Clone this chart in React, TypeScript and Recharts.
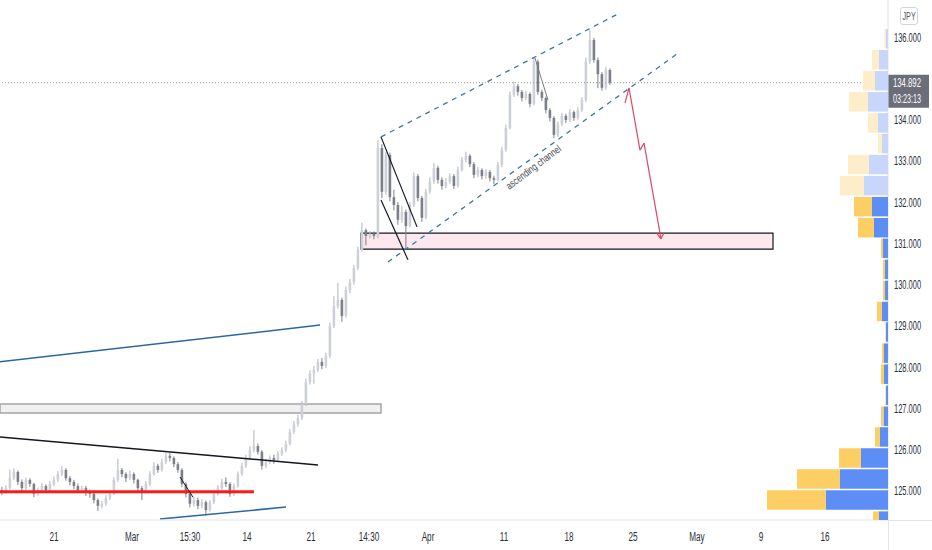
import React from 'react';
import {
  ComposedChart,
  BarChart,
  Bar,
  XAxis,
  YAxis,
  ReferenceLine,
  ReferenceArea,
  ReferenceDot,
  Cell,
} from 'recharts';

const FONT = "'Liberation Sans', Arial, sans-serif";

// ---------- axes ----------
const PRICE_MIN = 124.297;
const PRICE_MAX = 136.897;
const X_MIN = -0.5;
const X_MAX = 221.5;
// 135.000 sits under the last-price tag, so it is not shown
const priceTicks = [125, 126, 127, 128, 129, 130, 131, 132, 133, 134, 136];
const timeTicks = [13, 32.5, 47, 61.25, 77.25, 91.75, 106.5, 125.5, 141.75, 157.75, 173.75, 189.75, 205.75];
const timeLabels = ['21', 'Mar', '15:30', '14', '21', '14:30', 'Apr', '11', '18', '25', 'May', '9', '16'];
const lastPrice = 134.892;
const lastPriceText = '134.892';
const countdownText = '03:23:13';
const currencyText = 'JPY';

// ---------- candles (4H) ----------
const opens = [
  125.02, 124.98, 125.07, 125.31, 125.46, 125.22, 125.07, 125.27, 125.17, 124.93,
  125.02, 125.12, 125.02, 125.17, 125.27, 125.41, 125.51, 125.31, 125.22, 125.12,
  125.02, 125.07, 124.98, 124.93, 124.78, 124.64, 124.69, 124.83, 124.93, 125.27,
  125.51, 125.41, 125.31, 125.41, 125.27, 125.07, 124.98, 125.17, 125.41, 125.61,
  125.51, 125.70, 125.85, 125.80, 125.65, 125.51, 125.17, 124.93, 124.69, 124.78,
  124.64, 124.73, 124.54, 124.73, 124.93, 125.07, 125.22, 125.17, 124.93, 125.12,
  125.41, 125.61, 125.80, 125.99, 126.09, 125.95, 125.61, 125.70, 125.80, 125.75,
  125.90, 125.99, 126.14, 126.43, 126.62, 126.77, 127.11, 127.64, 127.84, 127.93,
  128.13, 128.03, 128.27, 129.00, 129.48, 129.63, 129.24, 129.87, 130.06, 130.40,
  130.84, 131.32, 131.18, 131.23, 131.18, 133.31, 132.25, 133.14, 132.12, 131.93,
  131.57, 131.76, 131.42, 131.93, 132.63, 132.10, 131.62, 132.25, 132.49, 132.83,
  132.54, 132.39, 132.49, 132.63, 132.39, 132.78, 133.02, 133.12, 132.92, 132.66,
  132.78, 132.63, 132.73, 132.58, 132.54, 132.90, 133.26, 133.80, 134.60, 134.81,
  134.67, 134.52, 134.62, 134.38, 135.40, 134.67, 134.52, 134.23, 134.04, 133.63,
  133.89, 134.09, 133.99, 134.18, 134.04, 134.23, 134.47, 135.40, 135.93, 135.44,
  135.10, 134.77, 135.20,
];
const highs = [
  125.10, 125.14, 125.52, 125.55, 125.50, 125.28, 125.33, 125.31, 125.20, 125.08,
  125.19, 125.16, 125.24, 125.35, 125.48, 125.60, 125.55, 125.36, 125.27, 125.18,
  125.13, 125.12, 125.03, 124.97, 124.82, 124.76, 124.90, 125.00, 125.33, 125.78,
  125.56, 125.45, 125.49, 125.45, 125.30, 125.12, 125.24, 125.48, 125.70, 125.66,
  125.78, 125.93, 125.92, 125.84, 125.70, 125.55, 125.21, 124.98, 124.86, 124.84,
  124.80, 124.77, 124.78, 125.00, 125.14, 125.30, 125.33, 125.21, 125.18, 125.47,
  125.68, 125.88, 126.08, 126.48, 126.15, 125.99, 125.78, 125.86, 125.88, 125.96,
  126.06, 126.22, 126.50, 126.70, 126.85, 127.18, 127.72, 127.92, 128.03, 128.20,
  128.22, 128.35, 129.08, 129.72, 130.04, 129.68, 129.95, 130.14, 130.48, 130.92,
  131.50, 131.36, 131.30, 131.29, 133.50, 133.40, 133.22, 133.20, 132.30, 132.00,
  131.90, 131.82, 132.00, 132.72, 132.68, 132.15, 132.32, 132.60, 132.95, 132.88,
  132.60, 132.58, 132.70, 132.68, 132.86, 133.10, 133.22, 133.16, 132.97, 132.85,
  132.82, 132.80, 132.78, 132.64, 132.97, 133.33, 133.88, 134.68, 134.92, 134.86,
  134.72, 134.70, 134.66, 135.52, 135.45, 134.72, 134.56, 134.28, 134.08, 133.95,
  134.16, 134.14, 134.25, 134.22, 134.30, 134.54, 135.50, 136.17, 135.98, 135.50,
  135.15, 135.27, 135.24,
];
const lows = [
  124.90, 124.93, 125.03, 125.26, 125.15, 124.98, 125.02, 125.10, 124.85, 124.88,
  124.97, 124.95, 124.98, 125.12, 125.22, 125.36, 125.25, 125.14, 125.04, 124.96,
  124.95, 124.88, 124.84, 124.70, 124.52, 124.58, 124.64, 124.78, 124.90, 125.22,
  125.33, 125.22, 125.26, 125.18, 124.98, 124.78, 124.94, 125.12, 125.37, 125.44,
  125.47, 125.65, 125.72, 125.58, 125.44, 125.10, 124.85, 124.60, 124.62, 124.56,
  124.58, 124.40, 124.50, 124.68, 124.89, 125.02, 125.10, 124.86, 124.88, 125.08,
  125.36, 125.56, 125.75, 125.93, 125.88, 125.52, 125.55, 125.65, 125.66, 125.70,
  125.85, 125.94, 126.10, 126.38, 126.56, 126.72, 127.06, 127.58, 127.60, 127.88,
  127.95, 127.98, 128.22, 128.95, 129.42, 129.10, 129.20, 129.80, 130.00, 130.35,
  130.80, 130.95, 131.12, 131.10, 131.12, 132.10, 132.18, 132.02, 131.80, 131.45,
  131.50, 130.89, 131.38, 131.88, 132.02, 131.52, 131.58, 132.20, 132.44, 132.45,
  132.30, 132.33, 132.44, 132.32, 132.35, 132.74, 132.96, 132.85, 132.58, 132.60,
  132.55, 132.57, 132.50, 132.44, 132.50, 132.85, 133.22, 133.76, 134.55, 134.58,
  134.44, 134.47, 134.30, 134.34, 134.60, 134.45, 134.15, 133.95, 133.55, 133.58,
  133.84, 133.92, 133.94, 133.97, 134.00, 134.18, 134.43, 135.35, 135.38, 134.76,
  134.70, 134.72, 134.84,
];
const closes = [
  124.98, 125.07, 125.31, 125.46, 125.22, 125.07, 125.27, 125.17, 124.93, 125.02,
  125.12, 125.02, 125.17, 125.27, 125.41, 125.51, 125.31, 125.22, 125.12, 125.02,
  125.07, 124.98, 124.93, 124.78, 124.64, 124.69, 124.83, 124.93, 125.27, 125.51,
  125.41, 125.31, 125.41, 125.27, 125.07, 124.98, 125.17, 125.41, 125.61, 125.51,
  125.70, 125.85, 125.80, 125.65, 125.51, 125.17, 124.93, 124.69, 124.78, 124.64,
  124.73, 124.54, 124.73, 124.93, 125.07, 125.22, 125.17, 124.93, 125.12, 125.41,
  125.61, 125.80, 125.99, 126.09, 125.95, 125.61, 125.70, 125.80, 125.75, 125.90,
  125.99, 126.14, 126.43, 126.62, 126.77, 127.11, 127.64, 127.84, 127.93, 128.13,
  128.03, 128.27, 129.00, 129.48, 129.63, 129.24, 129.87, 130.06, 130.40, 130.84,
  131.32, 131.18, 131.23, 131.18, 133.31, 132.25, 133.14, 132.12, 131.93, 131.57,
  131.76, 131.42, 131.93, 132.63, 132.10, 131.62, 132.25, 132.49, 132.83, 132.54,
  132.39, 132.49, 132.63, 132.39, 132.78, 133.02, 133.12, 132.92, 132.66, 132.78,
  132.63, 132.73, 132.58, 132.54, 132.90, 133.26, 133.80, 134.60, 134.81, 134.67,
  134.52, 134.62, 134.38, 135.40, 134.67, 134.52, 134.23, 134.04, 133.63, 133.89,
  134.09, 133.99, 134.18, 134.04, 134.23, 134.47, 135.40, 135.93, 135.44, 135.10,
  134.77, 135.20, 134.89,
];

// ---------- visible range volume profile ----------
const profilePrices = [
  135.97, 135.46, 134.95, 134.44, 133.93, 133.43, 132.92, 132.41, 131.90, 131.39,
  130.89, 130.38, 129.87, 129.36, 128.86, 128.35, 127.84, 127.33, 126.82, 126.32,
  125.81, 125.30, 124.79, 124.28,
];
const profileUp = [2, 9, 13, 20, 10, 6, 19, 24, 16, 14, 5, 3, 3, 6, 2, 4, 4, 2, 4.5, 8, 27, 48, 62, 9];
const profileDown = [1.5, 7, 12, 19, 10, 4, 21, 24, 18, 16, 2, 2, 2, 5, 0.5, 2, 3, 0.5, 2.5, 5, 22, 43, 59, 6];
const profileHighlighted = [
  false, false, false, false, false, false, false, false, true, true,
  true, true, true, true, true, true, true, true, true, true,
  true, true, true, true,
];

// ---------- drawings (bar index, price) ----------
const resistanceTrend = [{ x: -0.5, y: 126.31 }, { x: 79, y: 125.63 }];
const upperBlueTrend = [{ x: -0.5, y: 128.13 }, { x: 79.5, y: 129.02 }];
const lowerBlueTrend = [{ x: 39.5, y: 124.32 }, { x: 71, y: 124.61 }];
const supportLine = [{ x: -0.5, y: 124.98 }, { x: 63, y: 124.98 }];
const smallDrop = [{ x: 44.5, y: 125.34 }, { x: 47.75, y: 124.85 }];
const flagUpper = [{ x: 94.75, y: 133.58 }, { x: 103.75, y: 131.4 }];
const flagLower = [{ x: 94.75, y: 132.05 }, { x: 101.5, y: 130.6 }];
const peakDrop = [{ x: 133.25, y: 135.49 }, { x: 136.5, y: 134.47 }];
const channelUpper = [{ x: 94.75, y: 133.58 }, { x: 154, y: 136.56 }];
const channelLower = [{ x: 96.5, y: 130.55 }, { x: 168.75, y: 135.59 }];
const arrowPath = [
  { x: 155.75, y: 134.4 },
  { x: 156.75, y: 134.77 },
  { x: 159.5, y: 133.26 },
  { x: 160.5, y: 133.43 },
  { x: 164.75, y: 131.11 },
];
const arrowHead = [
  { x: 163.75, y: 131.24 },
  { x: 164.75, y: 131.11 },
  { x: 165.5, y: 131.26 },
];
const demandZone = { x1: 89.75, x2: 192.75, y1: 130.86, y2: 131.25 };
const greyZone = { x1: -0.5, x2: 94.75, y1: 126.89, y2: 127.11 };
const channelLabel = { x: 133, y: 132.83, text: 'ascending channel' };

const candles = closes.map((c, i) => ({ i, o: opens[i], h: highs[i], l: lows[i], c }));
const profileRows = profilePrices.map((p, i) => ({
  p,
  up: profileUp[i],
  down: profileDown[i],
  hl: profileHighlighted[i],
}));

const toSegments = (pts: { x: number; y: number }[]) =>
  pts.slice(1).map((pt, k) => [pts[k], pt]);

// ---------- renderers ----------
const Candle = (props: any) => {
  const { x, y, width, height, payload } = props;
  if (!payload || x == null || y == null) return null;
  const top = Math.min(y, y + height);
  const hgt = Math.abs(height);
  const { o, h, l, c } = payload;
  const span = h - l || 1;
  const py = (v: number) => top + ((h - v) / span) * hgt;
  const cx = x + width / 2;
  const up = c >= o;
  const bTop = py(Math.max(o, c));
  const bBot = py(Math.min(o, c));
  const body = up ? '#cdd0d8' : '#7c7f89';
  const wick = up ? '#b0b3bb' : '#7c7f89';
  return (
    <g>
      <line x1={cx} x2={cx} y1={top} y2={top + hgt} stroke={wick} strokeWidth={1} />
      <rect x={cx - 1.3} y={bTop} width={2.6} height={Math.max(1, bBot - bTop)} fill={body} />
    </g>
  );
};

const PriceTick = (props: any) => {
  const { x, y, payload } = props;
  return (
    <text
      transform={`translate(${x},${y + 4.5}) scale(0.6,1)`}
      fontSize={12.5}
      fill="#2a2e39"
      fontFamily={FONT}
    >
      {Number(payload.value).toFixed(3)}
    </text>
  );
};

const TimeTick = (props: any) => {
  const { x, y, payload } = props;
  const idx = timeTicks.indexOf(payload.value);
  return (
    <text
      transform={`translate(${x},${y + 19}) scale(0.68,1)`}
      textAnchor="middle"
      fontSize={12}
      fill="#2a2e39"
      fontFamily={FONT}
    >
      {idx >= 0 ? timeLabels[idx] : ''}
    </text>
  );
};

const PriceTag = (props: any) => {
  const vb = props.viewBox || {};
  const x0 = (vb.x ?? 0) + (vb.width ?? 0);
  const y0 = vb.y ?? 0;
  return (
    <g>
      <rect x={x0} y={y0 - 8} width={41} height={33} fill="#6b6e79" />
      <text
        transform={`translate(${x0 + 5},${y0 + 4.5}) scale(0.62,1)`}
        fontSize={12.5}
        fill="#ffffff"
        fontFamily={FONT}
      >
        {lastPriceText}
      </text>
      <text
        transform={`translate(${x0 + 5},${y0 + 20.5}) scale(0.6,1)`}
        fontSize={12}
        fill="#ffffff"
        fontFamily={FONT}
      >
        {countdownText}
      </text>
    </g>
  );
};

const ChannelText = (props: any) => {
  const vb = props.viewBox || {};
  const cx = (vb.x ?? 0) + (vb.width ?? 0) / 2;
  const cy = (vb.y ?? 0) + (vb.height ?? 0) / 2;
  return (
    <text
      x={cx}
      y={cy}
      transform={`rotate(-37 ${cx} ${cy})`}
      textAnchor="middle"
      dominantBaseline="middle"
      fontSize={10.5}
      fill="#434651"
      fontFamily={FONT}
      textLength={66}
      lengthAdjust="spacingAndGlyphs"
    >
      {channelLabel.text}
    </text>
  );
};

export default function App() {
  const seg = (pts: any[], stroke: string, width: number, dash?: string, key?: string) => (
    <ReferenceLine
      key={key}
      segment={pts}
      stroke={stroke}
      strokeWidth={width}
      strokeDasharray={dash}
      ifOverflow="visible"
    />
  );

  return (
    <div
      style={{
        position: 'absolute',
        left: 0,
        top: 0,
        width: 932,
        height: 550,
        background: '#ffffff',
        overflow: 'hidden',
        fontFamily: FONT,
      }}
    >
      <ComposedChart
        width={932}
        height={550}
        data={candles}
        margin={{ top: 0, right: 0, bottom: 0, left: 0 }}
      >
        <XAxis
          dataKey="i"
          type="number"
          domain={[X_MIN, X_MAX]}
          allowDataOverflow
          ticks={timeTicks}
          interval={0}
          tick={<TimeTick />}
          tickLine={false}
          tickSize={0}
          axisLine={{ stroke: '#e0e3eb' }}
          height={30}
        />
        <YAxis
          orientation="right"
          type="number"
          domain={[PRICE_MIN, PRICE_MAX]}
          allowDataOverflow
          ticks={priceTicks}
          interval={0}
          tick={<PriceTick />}
          tickLine={false}
          tickSize={0}
          tickMargin={6}
          width={44}
          axisLine={{ stroke: '#e0e3eb' }}
        />
        <ReferenceArea
          x1={greyZone.x1}
          x2={greyZone.x2}
          y1={greyZone.y1}
          y2={greyZone.y2}
          fill="#f0f0f0"
          fillOpacity={1}
          stroke="#a5a5a5"
          strokeWidth={1.5}
          ifOverflow="visible"
        />
        <ReferenceArea
          x1={demandZone.x1}
          x2={demandZone.x2}
          y1={demandZone.y1}
          y2={demandZone.y2}
          fill="#fce8ee"
          fillOpacity={1}
          stroke="#131722"
          strokeWidth={1.2}
          ifOverflow="visible"
        />
        <ReferenceLine y={lastPrice} stroke="#9598a1" strokeDasharray="1 2" label={<PriceTag />} />
        <Bar
          dataKey={(d: any) => [d.l, d.h]}
          shape={(p: any) => <Candle {...p} />}
          isAnimationActive={false}
        />
        {seg(resistanceTrend, '#131722', 1.5)}
        {seg(upperBlueTrend, '#2a67a3', 1.5)}
        {seg(lowerBlueTrend, '#2a67a3', 1.5)}
        {seg(supportLine, '#ff1a1a', 3)}
        {seg(smallDrop, '#131722', 1)}
        {seg(flagUpper, '#131722', 1.2)}
        {seg(flagLower, '#131722', 1.2)}
        {seg(peakDrop, '#787b86', 1)}
        {seg(channelUpper, '#3a77a6', 1.3, '5 5')}
        {seg(channelLower, '#3a77a6', 1.3, '5 5')}
        {toSegments(arrowPath).map((s, k) => seg(s, '#dd4a60', 1.2, undefined, 'a' + k))}
        {toSegments(arrowHead).map((s, k) => seg(s, '#dd4a60', 1.2, undefined, 'h' + k))}
        <ReferenceDot
          x={channelLabel.x}
          y={channelLabel.y}
          r={0.01}
          fill="none"
          stroke="none"
          label={<ChannelText />}
        />
      </ComposedChart>

      <div style={{ position: 'absolute', left: 758, top: 0, width: 130, height: 520, overflow: 'hidden' }}>
        <BarChart
          width={130}
          height={520}
          data={profileRows}
          layout="vertical"
          margin={{ top: 0, right: 0, bottom: 0, left: 0 }}
          barSize={19.5}
        >
          <XAxis type="number" hide domain={[0, 130]} reversed allowDataOverflow />
          <YAxis type="number" dataKey="p" hide domain={[PRICE_MIN, PRICE_MAX]} reversed allowDataOverflow />
          <Bar dataKey="up" stackId="v" isAnimationActive={false}>
            {profileRows.map((r, k) => (
              <Cell key={k} fill={r.hl ? '#5d8ef6' : '#c9d6fb'} />
            ))}
          </Bar>
          <Bar dataKey="down" stackId="v" isAnimationActive={false}>
            {profileRows.map((r, k) => (
              <Cell key={k} fill={r.hl ? '#fcce64' : '#fdedc8'} />
            ))}
          </Bar>
        </BarChart>
      </div>

      <div style={{ position: 'absolute', left: 888, top: 520, width: 1, height: 30, background: '#e0e3eb' }} />
      <div style={{ position: 'absolute', left: 888, top: 520, width: 44, height: 1, background: '#e0e3eb' }} />
      <div
        style={{
          position: 'absolute',
          left: 900,
          top: 7,
          width: 18,
          height: 18,
          boxSizing: 'border-box',
          border: '1px solid #d1d4dc',
          borderRadius: 3,
          display: 'flex',
          alignItems: 'center',
          justifyContent: 'center',
          fontSize: 11,
          color: '#50535e',
          background: '#ffffff',
        }}
      >
        <span style={{ display: 'inline-block', transform: 'scaleX(0.65)' }}>{currencyText}</span>
      </div>
    </div>
  );
}
